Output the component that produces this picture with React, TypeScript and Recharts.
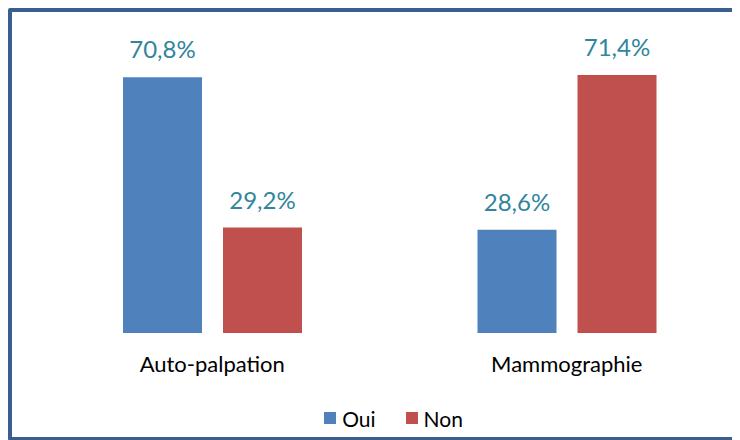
import React from 'react';
import { BarChart, Bar, XAxis, YAxis, Legend, LabelList } from 'recharts';

const categories = ['Auto-palpation', 'Mammographie'];
const ouiValues = [70.8, 28.6];
const nonValues = [29.2, 71.4];

const FONT = 'Lato, "Open Sans", sans-serif';

const chartData = categories.map((name, i) => ({
  name,
  Oui: ouiValues[i],
  Non: nonValues[i],
}));

const formatPct = (v: any) => `${Number(v).toFixed(1).replace('.', ',')}%`;

const CategoryTick = (props: any) => {
  const { x, y, payload } = props;
  return (
    <text x={x} y={y} dy={39} textAnchor="middle" fill="#000" fontSize={22} fontFamily={FONT}>
      {payload.value}
    </text>
  );
};

const LegendContent = () => (
  <div
    style={{
      display: 'flex',
      justifyContent: 'center',
      alignItems: 'center',
      height: 24,
      paddingLeft: 23,
      fontFamily: FONT,
      fontSize: 21,
      color: '#000',
    }}
  >
    {[
      { label: 'Oui', color: '#4f81bd' },
      { label: 'Non', color: '#c0504d' },
    ].map((item, i) => (
      <div key={item.label} style={{ display: 'flex', alignItems: 'center', marginLeft: i ? 30 : 0 }}>
        <span style={{ width: 12, height: 12, background: item.color, display: 'inline-block', marginRight: 6 }} />
        <span>{item.label}</span>
      </div>
    ))}
  </div>
);

export default function App() {
  return (
    <div style={{ width: 732, height: 433, overflow: 'hidden' }}>
      <div style={{ width: 760, height: 425, border: '4px solid #3a5f8e', borderRadius: 2 }}>
        <BarChart
          width={740}
          height={425}
          data={chartData}
          margin={{ top: 32, right: 8, left: 23, bottom: 7 }}
          barSize={79}
          barGap={21}
        >
          <XAxis
            dataKey="name"
            axisLine={false}
            tickLine={false}
            tickSize={0}
            tickMargin={0}
            height={73}
            tick={<CategoryTick />}
          />
          <YAxis hide domain={[0, 80]} />
          <Legend
            verticalAlign="bottom"
            wrapperStyle={{ left: 0, width: 740 }}
            content={<LegendContent />}
          />
          <Bar dataKey="Oui" fill="#4f81bd" isAnimationActive={false}>
            <LabelList
              dataKey="Oui"
              position="top"
              offset={19}
              formatter={formatPct}
              fill="#31859c"
              fontSize={24}
              fontFamily={FONT}
            />
          </Bar>
          <Bar dataKey="Non" fill="#c0504d" isAnimationActive={false}>
            <LabelList
              dataKey="Non"
              position="top"
              offset={19}
              formatter={formatPct}
              fill="#31859c"
              fontSize={24}
              fontFamily={FONT}
            />
          </Bar>
        </BarChart>
      </div>
    </div>
  );
}
